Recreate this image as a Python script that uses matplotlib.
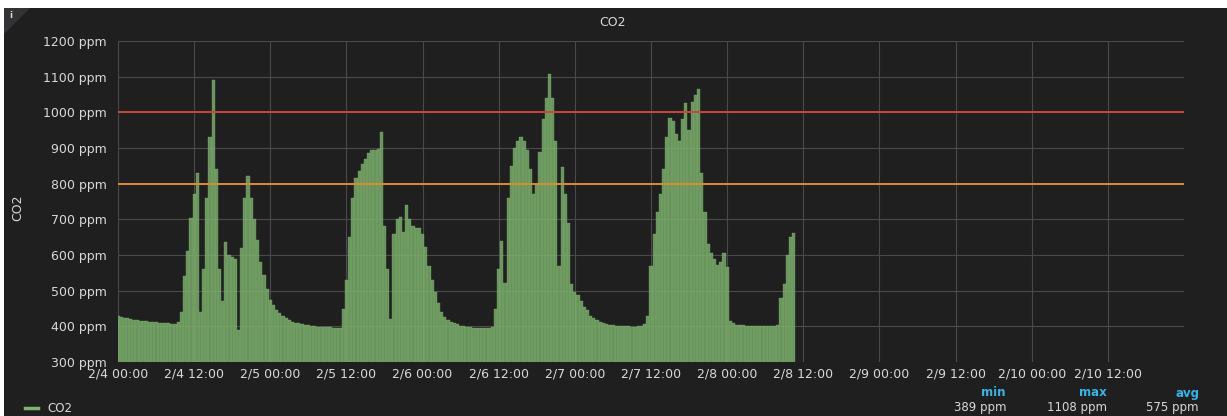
import matplotlib
matplotlib.use('Agg')
import matplotlib.pyplot as plt
from matplotlib.patches import Polygon, Rectangle
from datetime import datetime, timedelta

# CO2 readings, one every 30 minutes starting 2/4 00:00 (ppm)
co2_ppm = [
    428, 426, 424, 422, 420, 418, 417, 416, 415, 414,
    413, 412, 411, 410, 410, 409, 408, 407, 406, 412,
    440, 540, 610, 705, 770, 830, 440, 560, 760, 930,
    1090, 840, 560, 470, 636, 600, 594, 590, 389, 620,
    760, 822, 760, 700, 642, 580, 545, 505, 474, 460,
    445, 437, 430, 424, 418, 413, 410, 408, 406, 404,
    403, 402, 400, 399, 398, 398, 397, 397, 396, 396,
    396, 450, 530, 650, 760, 815, 835, 855, 870, 885,
    893, 895, 897, 945, 680, 560, 420, 660, 700, 706,
    665, 740, 700, 680, 675, 675, 660, 622, 570, 530,
    495, 465, 440, 425, 417, 413, 410, 406, 402, 400,
    398, 397, 396, 396, 395, 395, 395, 395, 398, 450,
    560, 640, 521, 760, 850, 900, 920, 930, 920, 895,
    840, 770, 800, 890, 980, 1040, 1108, 1040, 920, 570,
    847, 770, 690, 520, 495, 487, 470, 455, 446, 430,
    422, 417, 413, 410, 406, 404, 403, 402, 401, 400,
    400, 400, 399, 399, 400, 402, 406, 430, 570, 660,
    720, 770, 840, 930, 985, 975, 940, 920, 980, 1026,
    950, 1030, 1050, 1065, 830, 720, 630, 605, 590, 572,
    580, 605, 566, 415, 408, 405, 404, 403, 402, 402,
    401, 401, 401, 401, 401, 402, 402, 402, 404, 480,
    520, 600, 650, 661,
]
y_ticks = [300, 400, 500, 600, 700, 800, 900, 1000, 1100, 1200]
thresholds = [1000, 800]
stat_names = ['min', 'max', 'avg']
stat_values = ['389 ppm', '1108 ppm', '575 ppm']

start = datetime(2018, 2, 4)
end = datetime(2018, 2, 11)
times = [start + timedelta(minutes=30 * i) for i in range(len(co2_ppm))]
tick_times = [start + timedelta(hours=12 * i) for i in range(14)]
tick_labels = [f'{t.month}/{t.day} {t:%H:%M}' for t in tick_times]

BG = '#1f1f20'
TEXT = '#d8d9da'
GRID = '#4a4a4c'

fig = plt.figure(figsize=(12.27, 4.16), dpi=100, facecolor='white')
# dark panel (small white margin top/left like the screenshot)
fig.patches.append(Rectangle((4 / 1227, 0), 1, 1 - 8 / 416, transform=fig.transFigure,
                             facecolor=BG, edgecolor='none', zorder=0))
fig.patches.append(Polygon([(4 / 1227, 1 - 8 / 416), (30 / 1227, 1 - 8 / 416), (4 / 1227, 1 - 34 / 416)],
                           closed=True, transform=fig.transFigure,
                           facecolor='#333335', edgecolor='none', zorder=1))
fig.text(11 / 1227, 1 - 16 / 416, 'i', color=TEXT, fontsize=6, ha='center', va='center',
         fontweight='bold')

ax = fig.add_axes([118 / 1227, 1 - 362 / 416, (1184 - 118) / 1227, (362 - 41) / 416])
ax.set_zorder(5)
ax.set_facecolor(BG)

# translucent touching bars: grid shows through and the overlaps make faint stripes
ax.bar(times, co2_ppm, width=0.5 / 24, color='#7EB26D', alpha=0.8,
       edgecolor='#7EB26D', linewidth=0.3, zorder=2)

for val, col in zip(thresholds, ['#c9473a', '#e08a2e']):
    ax.axhline(val, color=col, linewidth=1.4, zorder=3)

ax.set_xlim(start, end)
ax.set_ylim(300, 1200)
ax.set_yticks(y_ticks)
ax.set_yticklabels([f'{v} ppm' for v in y_ticks])
ax.set_xticks(tick_times)
ax.set_xticklabels(tick_labels)

ax.grid(True, color=GRID, linewidth=0.8, zorder=1)
ax.set_axisbelow(True)
for s in ax.spines.values():
    s.set_visible(False)
ax.tick_params(axis='both', length=0, colors=TEXT, labelsize=9)
ax.tick_params(axis='y', pad=8)
ax.tick_params(axis='x', pad=4)

fig.text(613 / 1227, 1 - 22 / 416, 'CO2', color=TEXT, fontsize=9, ha='center', va='center')
fig.text(18 / 1227, 1 - 208 / 416, 'CO2', color=TEXT, fontsize=9, ha='center', va='center',
         rotation=90)

# legend row
fig.lines.append(plt.Line2D([25 / 1227, 38 / 1227], [1 - 408 / 416, 1 - 408 / 416],
                            transform=fig.transFigure, color='#7EB26D', linewidth=2.5))
fig.text(47 / 1227, 1 - 408 / 416, 'CO2', color=TEXT, fontsize=8.5, ha='left', va='center')

for name, val, xr in zip(stat_names, stat_values, [1006, 1107, 1199]):
    fig.text(xr / 1227, 1 - 393 / 416, name, color='#33b5e5', fontsize=8.5,
             fontweight='bold', ha='right', va='center')
    fig.text(xr / 1227, 1 - 408 / 416, val, color=TEXT, fontsize=8.5, ha='right', va='center')

fig.savefig('out.png', dpi=100, facecolor=fig.get_facecolor())
